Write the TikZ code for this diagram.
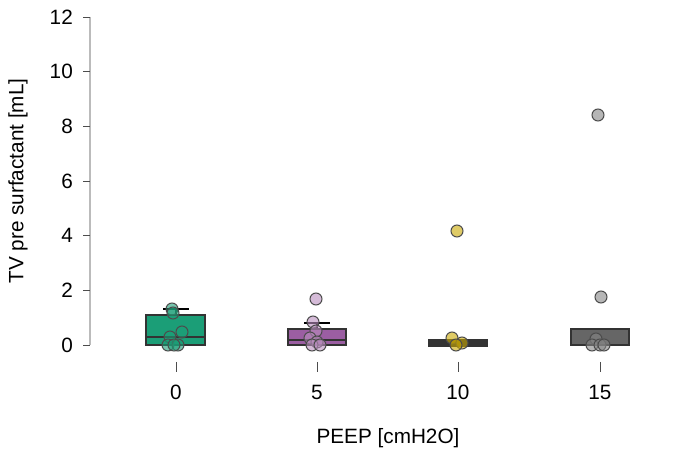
\documentclass[tikz,border=0pt]{standalone}
\usepackage{fontspec}
\setmainfont{Liberation Sans}
\definecolor{grpgreen}{HTML}{1B9E77}
\definecolor{grppurple}{HTML}{9B5EA2}
\definecolor{grpyellow}{HTML}{C9A800}
\definecolor{grpgray}{HTML}{666666}
\definecolor{axisgray}{HTML}{BBBBBB}
\usetikzlibrary{positioning}
\tikzset{
  tick/.style={font=\fontsize{11.8}{14}\selectfont},
  boxfill/.style={draw=black!80, line width=1.4pt},
  pt/.style={circle, draw=black!70, line width=0.6pt, minimum size=0.24cm, inner sep=0pt, fill opacity=0.6}
}
\begin{document}
\begin{tikzpicture}[x=0.02cm, y=-0.02cm]
      \useasboundingbox (0,0) rectangle (684,456);

      % y axis
      \draw[axisgray, line width=0.6pt] (90,17) -- (90,345);
      \foreach \v in {0,2,...,12}{
        \draw[black!70] (83,{345-27.33*\v}) -- (90,{345-27.33*\v});
        \node[tick, anchor=east] (yl\v) at (79,{345-27.33*\v}) {\v};
      }
      \node[tick, rotate=90] (ylabel) at (18,181) {TV pre surfactant [mL]};

      % x axis ticks
      \foreach \p/\x in {0/176,5/317,10/458,15/600}{
        \draw[black!70] (\x,362) -- (\x,372);
        \node[tick] (xl\p) at (\x,392) {\p};
      }
      \node[tick] (xlabel) at (388,438) {PEEP [cmH2O]};

      % boxes
      \draw[black, line width=1.4pt] (163,309) -- (189,309) (176,309) -- (176,315);
      \filldraw[boxfill, fill=grpgreen] (146,315) rectangle (205,345);
      \draw[black!80, line width=1.4pt] (146,337) -- (205,337);
      \draw[black, line width=1.4pt] (304,323) -- (330,323) (317,323) -- (317,329);
      \filldraw[boxfill, fill=grppurple] (288,329) rectangle (346,345);
      \draw[black!80, line width=1.4pt] (288,340) -- (346,340);
      \filldraw[boxfill, fill=black!80] (429,340) rectangle (487,346);
      \filldraw[boxfill, fill=grpgray] (571,329) rectangle (629,345);

      % points
      \foreach \x/\y [count=\i] in {172/309,173/313,170/337,182/332,168/345,178/345,174/345}
        \node[pt, fill=grpgreen] (ga\i) at (\x,\y) {};
      \foreach \x/\y [count=\i] in {316/299,313/322,316/331,310/338,317/342,312/345,320/345}
        \node[pt, fill=grppurple!70] (gb\i) at (\x,\y) {};
      \foreach \x/\y [count=\i] in {457/231,452/338,462/343,456/345}
        \node[pt, fill=grpyellow] (gc\i) at (\x,\y) {};
      \foreach \x/\y [count=\i] in {598/115,601/297,596/339,592/345,600/345,604/345}
        \node[pt, fill=grpgray!80] (gd\i) at (\x,\y) {};
    \end{tikzpicture}
\end{document}
